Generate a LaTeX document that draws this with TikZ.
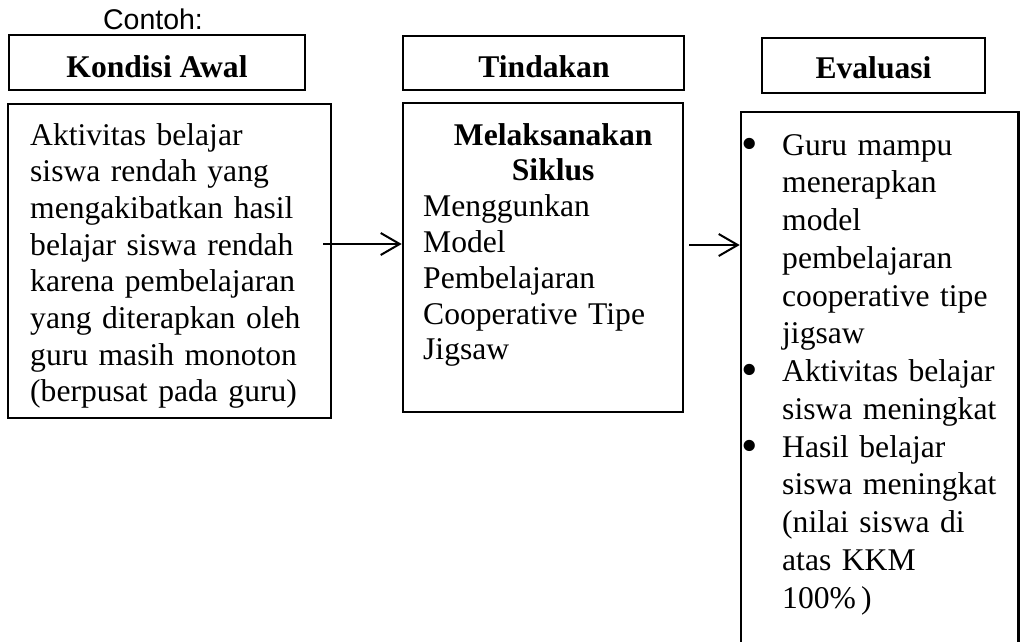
\documentclass[tikz,border=0pt]{standalone}
\usepackage{fontspec}
\setmainfont{Liberation Serif}
\newfontfamily\labelsans{Liberation Sans}
\usetikzlibrary{arrows.meta}

\begin{document}
\begin{tikzpicture}[x=1pt,y=-1pt,
  frame/.style={draw=black, line width=2.6pt, rectangle, inner sep=0pt},
  headtext/.style={font=\fontsize{31.6}{36}\selectfont\bfseries, inner sep=0pt, anchor=base},
  bodytext/.style={inner sep=0pt, anchor=base west, align=left},
  flow/.style={draw=black, line width=2pt,
    -{Straight Barb[length=19pt,width=22pt,line width=2pt]}}
]
\useasboundingbox (0,0) rectangle (1020,641);

% caption above the first column
\node[inner sep=0pt, anchor=base, font=\labelsans\fontsize{28.5}{32}\selectfont] (caption) at (153,29) {Contoh:};

% column headers
\node[frame, minimum width=296pt, minimum height=55pt] (kh) at (157,62.5) {};
\node[frame, minimum width=281pt, minimum height=54pt] (th) at (543.5,63) {};
\node[frame, minimum width=223pt, minimum height=55pt] (eh) at (873.5,65.5) {};
\node[headtext] (khl) at (157,77) {Kondisi Awal};
\node[headtext] (thl) at (544,77) {Tindakan};
\node[headtext] (ehl) at (873.5,78) {Evaluasi};

% column bodies
\node[frame, minimum width=323pt, minimum height=314pt] (kb) at (169.5,261) {};
\node[frame, minimum width=280pt, minimum height=309pt] (tb) at (543,257.5) {};
\node[frame, minimum width=277.5pt, minimum height=548pt] (eb) at (879.75,386) {};

% body texts
\node[bodytext, text width=300pt, font=\fontsize{31.6}{36.7}\selectfont] (kt) at (30,145)
  {Aktivitas belajar\\ siswa rendah yang\\ mengakibatkan hasil\\ belajar siswa rendah\\
   karena pembelajaran\\ yang diterapkan oleh\\ guru masih monoton\\ (berpusat pada guru)};

\node[bodytext, text width=260pt, font=\fontsize{31.6}{35.8}\selectfont] (tt) at (423,145)
  {{\centering\bfseries Melaksanakan\\ Siklus\par}
   Menggunkan\\ Model\\ Pembelajaran\\ Cooperative Tipe\\ Jigsaw};

% bullet hung in the left margin of a list line
\newcommand\evbullet{\leavevmode\llap{\raisebox{-4pt}{\fontsize{47}{47}\selectfont\textbullet}\hspace{24pt}}}
\node[bodytext, text width=236pt, font=\fontsize{31.6}{37.75}\selectfont] (et) at (782,155)
  {\evbullet Guru mampu\\ menerapkan\\ model\\ pembelajaran\\ cooperative tipe\\ jigsaw\\
   \evbullet Aktivitas belajar\\ siswa meningkat\\
   \evbullet Hasil belajar\\ siswa meningkat\\ (nilai siswa di\\ atas KKM\\ 100\%\,)};

% connectors
\coordinate (a1) at (323,244);
\coordinate (a2) at (689,245);
\draw[flow] (a1) -- (tb.west |- a1);
\draw[flow] (a2) -- (eb.west |- a2);
\end{tikzpicture}
\end{document}
